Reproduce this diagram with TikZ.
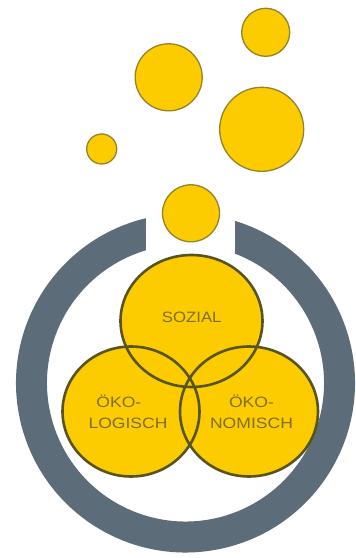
\documentclass[tikz,border=0pt]{standalone}
\usepackage{fontspec}
\setmainfont{Liberation Sans}
\usetikzlibrary{calc}
\definecolor{ringgray}{RGB}{92,108,121}
\definecolor{sunyellow}{RGB}{252,204,0}
\definecolor{bubbleedge}{RGB}{150,130,40}
\definecolor{vennedge}{RGB}{88,84,30}
\definecolor{labelcol}{RGB}{125,110,42}
\tikzset{
  bubble/.style={fill=sunyellow, draw=bubbleedge, line width=1.3pt},
  vennfill/.style={fill=sunyellow},
  venndraw/.style={draw=vennedge, line width=2.6pt},
  lbl/.style={text=labelcol, font=\fontsize{15}{21.5}\selectfont, inner sep=0pt}
}
\begin{document}
\begin{tikzpicture}[x=1pt,y=1pt]
\useasboundingbox (0,0) rectangle (356,558);
\coordinate (rc) at (185.5,175);
% ring with gap at top
\fill[ringgray] ($(rc)+(103.5:169.5)$) arc[start angle=103.5, end angle=433.0, radius=169.5]
  -- ($(rc)+(69.06:138.5)$) arc[start angle=69.06, end angle=-253.4, radius=138.5] -- cycle;
% rising bubbles
\draw[bubble] (265.7,525.7) circle[radius=24];
\draw[bubble] (168.7,480.7) circle[radius=33.5];
\draw[bubble] (261.7,428.7) circle[radius=42];
\draw[bubble] (101.7,409) circle[radius=15];
\draw[bubble] (191,344.7) circle[radius=28.5];
% venn circles
\coordinate (cs) at (191.5,237);
\coordinate (cl) at (131,146.5);
\coordinate (cr) at (249,146.5);
\fill[vennfill] (cs) ellipse[x radius=71, y radius=66];
\fill[vennfill] (cl) ellipse[x radius=68.5, y radius=65];
\fill[vennfill] (cr) ellipse[x radius=69, y radius=65];
\draw[venndraw] (cs) ellipse[x radius=71, y radius=66];
\draw[venndraw] (cl) ellipse[x radius=68.5, y radius=65];
\draw[venndraw] (cr) ellipse[x radius=69, y radius=65];
% labels
\node[lbl] (sozial) at (191.7,240.5) {\scalebox{1.12}[1]{SOZIAL}};
\node[lbl, align=left] (oekolog) at (128,146) {\scalebox{1.17}[1]{\hspace*{0.45em}ÖKO-}\\\scalebox{1.17}[1]{LOGISCH}};
\node[lbl, align=center] (oekonom) at (251.5,146) {\scalebox{1.17}[1]{ÖKO-}\\\scalebox{1.17}[1]{NOMISCH}};
\end{tikzpicture}
\end{document}
